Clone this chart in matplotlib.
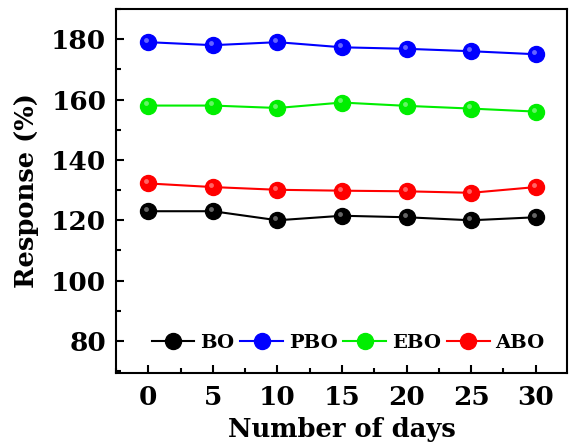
import matplotlib.pyplot as plt
from matplotlib import transforms
from matplotlib.ticker import MultipleLocator

# data
days = [0, 5, 10, 15, 20, 25, 30]
bo = [123, 123, 120, 121.5, 121, 120, 121]
pbo = [179, 178, 179, 177.3, 176.8, 176, 175]
ebo = [158, 158, 157.2, 159, 157.9, 157, 156]
abo = [132.2, 131, 130.1, 129.8, 129.6, 129.1, 131]
names = ['BO', 'PBO', 'EBO', 'ABO']
colors = ['#000000', '#0000ff', '#00ee00', '#ff0000']

plt.rcParams['font.family'] = 'DejaVu Serif'
plt.rcParams['font.weight'] = 'bold'

fig = plt.figure(figsize=(5.69, 4.48), dpi=100)
ax = fig.add_axes([0.204, 0.168, 0.792, 0.812])

# small shifted highlight to fake the shaded balls
hl = transforms.offset_copy(ax.transData, fig=fig, x=-1.5, y=1.5, units='points')
for vals, c, n in zip([bo, pbo, ebo, abo], colors, names):
    ax.plot(days, vals, '-o', color=c, lw=1.5, ms=11.5, mec=c, label=n)
    ax.plot(days, vals, 'o', color='white', alpha=0.4, ms=3.5, mec='none', transform=hl)

ax.set_xlim(-2.5, 32.4)
ax.set_ylim(69.5, 190)
ax.xaxis.set_major_locator(MultipleLocator(5))
ax.xaxis.set_minor_locator(MultipleLocator(2.5))
ax.yaxis.set_major_locator(MultipleLocator(20))
ax.yaxis.set_minor_locator(MultipleLocator(10))
ax.tick_params(which='both', direction='in', width=1.5, labelsize=19)
ax.tick_params(which='major', length=6)
ax.tick_params(which='minor', length=3.5)
ax.tick_params(axis='x', pad=9)
ax.tick_params(axis='y', pad=7)
for s in ax.spines.values():
    s.set_linewidth(1.5)

ax.set_xlabel('Number of days', fontsize=18.5, fontweight='bold', labelpad=5)
ax.set_ylabel('Response (%)', fontsize=18.5, fontweight='bold', labelpad=9)

ax.legend(loc='center', bbox_to_anchor=(0.515, 0.083), ncol=4, frameon=False,
          handlelength=2.2, handletextpad=0.3, columnspacing=0.3,
          prop={'weight': 'bold', 'size': 14})

fig.savefig('out.png', dpi=100)
